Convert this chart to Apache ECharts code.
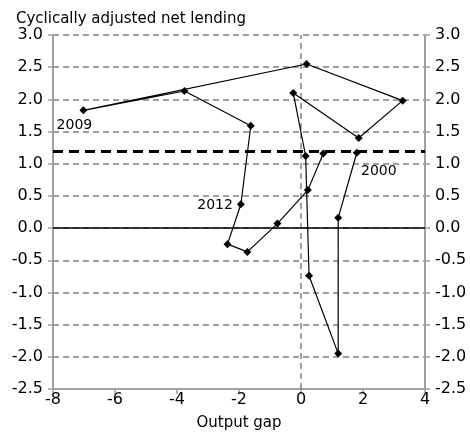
<!DOCTYPE html>
<html>
<head>
<meta charset="utf-8">
<script src="https://cdn.jsdelivr.net/npm/echarts@6/dist/echarts.min.js"></script>
<style>
  html, body { margin: 0; padding: 0; background: #fff; }
  #chart { width: 470px; height: 436px; }
</style>
</head>
<body>
<div id="chart"></div>
<script>
// Years of the path, output gap (x) and cyclically adjusted net lending (y)
const years = ['2000','2001','2002','2003','2004','2005','2006','2007','2008',
               '2009','2010','2011','2012','2013','2014','2015','2016','2017'];
const outputGap = [1.80, 1.20, 1.20, 0.26, 0.15, -0.25, 1.86, 3.28, 0.18,
                   -7.02, -3.76, -1.62, -1.94, -2.37, -1.73, -0.76, 0.22, 0.72];
const netLending = [1.17, 0.16, -1.95, -0.74, 1.12, 2.10, 1.40, 1.98, 2.55,
                    1.83, 2.13, 1.59, 0.37, -0.25, -0.37, 0.07, 0.59, 1.16];
const labelledYears = ['2000', '2009', '2012'];
const referenceLevel = 1.2;

const chart = echarts.init(document.getElementById('chart'));

const FONT = 'DejaVu Sans';
const tickText = { color: '#000', fontSize: 16, fontFamily: FONT };

const labelPos = {
  '2000': { position: 'bottom', offset: [22, 3] },
  '2009': { position: 'bottom', offset: [-9, -1] },
  '2012': { position: 'left', offset: [1, 1] }
};

const points = years.map((yr, i) => {
  const item = { value: [outputGap[i], netLending[i]] };
  if (labelledYears.includes(yr)) {
    item.label = Object.assign({
      show: true, formatter: yr, color: '#000', fontSize: 14, fontFamily: FONT
    }, labelPos[yr]);
  }
  return item;
});

const yAxisBase = {
  type: 'value', min: -2.5, max: 3, interval: 0.5,
  axisLine: { show: true, onZero: false, lineStyle: { color: '#a0a0a0', width: 2 } },
  axisTick: { show: true, length: 5, lineStyle: { color: '#a0a0a0', width: 1.5 } },
  axisLabel: Object.assign({ formatter: v => v.toFixed(1), margin: 10 }, tickText)
};

chart.setOption({
  animation: false,
  grid: { left: 53, right: 45, top: 35, bottom: 47, containLabel: false },
  title: {
    text: 'Cyclically adjusted net lending', left: 11, top: 7,
    textStyle: { fontSize: 15, fontWeight: 'normal', color: '#000', fontFamily: FONT }
  },
  xAxis: {
    type: 'value', min: -8, max: 4, interval: 2,
    name: 'Output gap', nameLocation: 'middle', nameGap: 27,
    nameTextStyle: { color: '#000', fontSize: 15, fontFamily: FONT },
    axisLine: { onZero: false, lineStyle: { color: '#a0a0a0', width: 2 } },
    axisTick: { length: 5, lineStyle: { color: '#a0a0a0', width: 1.5 } },
    axisLabel: Object.assign({ margin: 3 }, tickText),
    splitLine: { show: false }
  },
  yAxis: [
    Object.assign({}, yAxisBase, {
      position: 'left',
      splitLine: { show: true, lineStyle: { color: '#808080', type: [6, 4], width: 1.5 } }
    }),
    Object.assign({}, yAxisBase, {
      position: 'right',
      splitLine: { show: false }
    })
  ],
  series: [{
    type: 'line',
    data: points,
    yAxisIndex: 0,
    symbol: 'diamond',
    symbolSize: 8,
    itemStyle: { color: '#000' },
    lineStyle: { color: '#000', width: 1.2 },
    z: 5,
    markLine: {
      silent: true,
      symbol: 'none',
      label: { show: false },
      data: [
        { xAxis: 0, lineStyle: { color: '#808080', type: [6, 4], width: 1.5 } },
        { yAxis: 0, lineStyle: { color: '#000', type: 'solid', width: 1.5 } },
        { yAxis: referenceLevel, lineStyle: { color: '#000', type: [10, 6], width: 3 } }
      ]
    }
  }]
});
</script>
</body>
</html>
